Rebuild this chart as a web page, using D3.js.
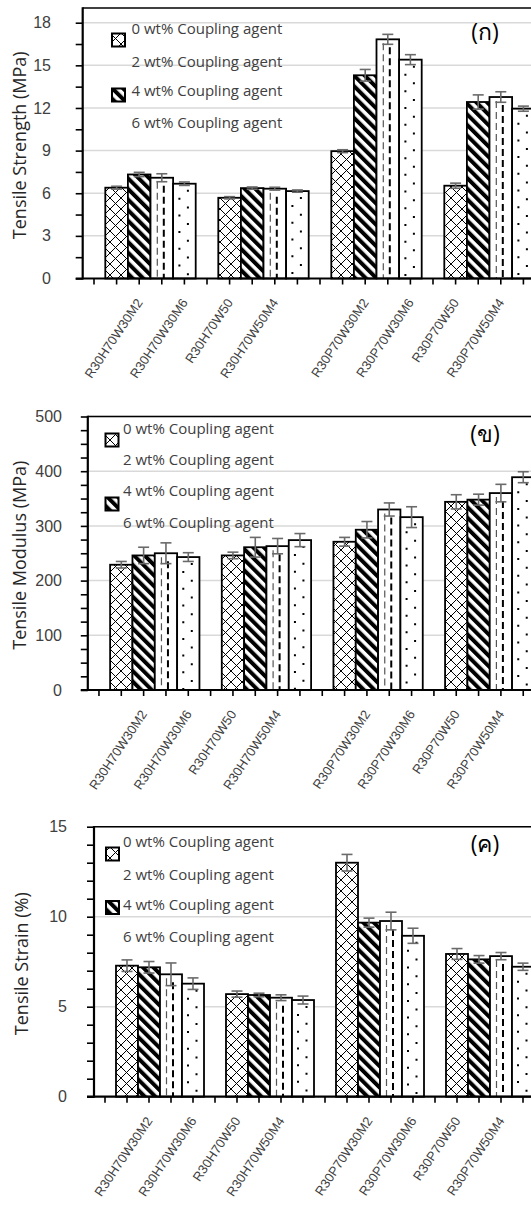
<!DOCTYPE html>
<html>
<head>
<meta charset="utf-8">
<script src="https://cdn.jsdelivr.net/npm/d3@7"></script>
<style>
  body { margin: 0; background: #fff; }
  svg { display: block; font-family: "Open Sans", "Noto Sans", sans-serif; }
</style>
</head>
<body>
<div class="chart"></div>
<script>
// slot labels of the category axis (20 slots, one label every other slot)
var slotLabels = ["", "", "R30H70W30M2", "", "R30H70W30M6", "", "R30H70W50", "", "R30H70W50M4", "",
                  "", "", "R30P70W30M2", "", "R30P70W30M6", "", "R30P70W50", "", "R30P70W50M4", ""];

var seriesNames = ["0 wt% Coupling agent", "2 wt% Coupling agent", "4 wt% Coupling agent", "6 wt% Coupling agent"];

// rows = bar groups, cols = series
var strengthMean = [[6.39, 7.32, 7.09, 6.67], [5.68, 6.36, 6.32, 6.15], [8.96, 14.3, 16.83, 15.4], [6.53, 12.42, 12.77, 11.95]];
var strengthErr  = [[0.10, 0.15, 0.28, 0.12], [0.08, 0.08, 0.10, 0.08], [0.10, 0.41, 0.35, 0.35], [0.18, 0.50, 0.37, 0.18]];
var modulusMean  = [[229, 246, 250, 243], [246, 261, 263, 274], [271, 293, 330, 316], [344, 348, 360, 389]];
var modulusErr   = [[6, 15, 19, 8], [6, 18, 14, 12], [8, 15, 12, 19], [13, 10, 16, 10]];
var strainMean   = [[7.28, 7.19, 6.80, 6.28], [5.70, 5.65, 5.50, 5.37], [13.0, 9.67, 9.76, 8.94], [7.93, 7.63, 7.81, 7.22]];
var strainErr    = [[0.32, 0.32, 0.63, 0.32], [0.17, 0.10, 0.16, 0.22], [0.46, 0.25, 0.49, 0.42], [0.30, 0.21, 0.20, 0.20]];

var strengthTicks = [0, 3, 6, 9, 12, 15, 18];
var modulusTicks = [0, 100, 200, 300, 400, 500];
var strainTicks = [0, 5, 10, 15];

var width = 531, height = 1206;

var panels = [
    { mean: strengthMean, err: strengthErr, ticks: strengthTicks, minor: 1.5, title: "Tensile Strength (MPa)", tag: "(ก)",
      left: 82.7, slot: 22.6, y0: 278.5, yMax: 22.7, top: 8, labelRight: 51, titleX: 20,
      boxX: 112, textX: 131.5, rows: [29, 61.5, 91, 122.5], boxes: [40, 95], tagY: 32 },
    { mean: modulusMean, err: modulusErr, ticks: modulusTicks, minor: 25, title: "Tensile Modulus (MPa)", tag: "(ข)",
      left: 87.8, slot: 22.33, y0: 690, yMax: 416.5, top: 416.5, labelRight: 62, titleX: 20,
      boxX: 105.5, textX: 123, rows: [428.5, 460, 491, 522.5], boxes: [440, 504], tagY: 434 },
    { mean: strainMean, err: strainErr, ticks: strainTicks, minor: 1, title: "Tensile Strain (%)", tag: "(ค)",
      left: 94, slot: 22, y0: 1096.7, yMax: 826.7, top: 826.7, labelRight: 67, titleX: 22,
      boxX: 106, textX: 123, rows: [842, 875, 905, 937], boxes: [854, 907.5], tagY: 844 }
];

var svg = d3.select(".chart").append("svg")
    .attr("width", width)
    .attr("height", height);

var defs = svg.append("defs");

var cross = defs.append("pattern")
    .attr("id", "cross")
    .attr("patternUnits", "userSpaceOnUse")
    .attr("width", 11).attr("height", 11);
cross.append("path")
    .attr("d", "M0,0L11,11M11,0L0,11")
    .attr("stroke", "#000").attr("stroke-width", 1).attr("fill", "none");

var stripe = defs.append("pattern")
    .attr("id", "stripe")
    .attr("patternUnits", "userSpaceOnUse")
    .attr("width", 7.5).attr("height", 10)
    .attr("patternTransform", "rotate(-45)");
stripe.append("rect")
    .attr("width", 4).attr("height", 10).attr("fill", "#000");

panels.forEach(function(p) {
    var x = d3.scaleBand()
        .domain(d3.range(slotLabels.length))
        .range([p.left, p.left + slotLabels.length * p.slot])
        .padding(0);

    var maxVal = p.ticks[p.ticks.length - 1];
    var y = d3.scaleLinear()
        .domain([0, maxVal])
        .range([p.y0, p.yMax]);

    var g = svg.append("g");

    // gridlines
    g.selectAll(".grid")
        .data(p.ticks.filter(function(d) { return d > 0; }))
        .enter().append("line")
        .attr("x1", p.left).attr("x2", width)
        .attr("y1", function(d) { return y(d); })
        .attr("y2", function(d) { return y(d); })
        .attr("stroke", "#d9d9d9")
        .attr("stroke-width", 1.5);

    // flatten bars
    var bars = [];
    p.mean.forEach(function(row, gi) {
        row.forEach(function(v, si) {
            bars.push({ slot: 1 + gi * 5 + si, s: si, v: v, e: p.err[gi][si] });
        });
    });

    var bw = x.bandwidth();

    var bar = g.selectAll(".bar")
        .data(bars)
        .enter().append("g");

    bar.append("rect")
        .attr("x", function(d) { return x(d.slot); })
        .attr("y", function(d) { return y(d.v); })
        .attr("width", bw)
        .attr("height", function(d) { return p.y0 - y(d.v); })
        .attr("fill", "#fff");

    bar.filter(function(d) { return d.s === 0 || d.s === 1; })
        .append("rect")
        .attr("x", function(d) { return x(d.slot); })
        .attr("y", function(d) { return y(d.v); })
        .attr("width", bw)
        .attr("height", function(d) { return p.y0 - y(d.v); })
        .attr("fill", function(d) { return d.s === 0 ? "url(#cross)" : "url(#stripe)"; });

    // dashed bars
    var dash = bar.filter(function(d) { return d.s === 2; });
    dash.append("line")
        .attr("x1", function(d) { return x(d.slot) + bw / 2 - 4.5; })
        .attr("x2", function(d) { return x(d.slot) + bw / 2 - 4.5; })
        .attr("y1", function(d) { return y(d.v) + 4; })
        .attr("y2", p.y0)
        .attr("stroke", "#555").attr("stroke-width", 1.2)
        .attr("stroke-dasharray", "7,4");
    dash.append("line")
        .attr("x1", function(d) { return x(d.slot) + bw / 2 + 2; })
        .attr("x2", function(d) { return x(d.slot) + bw / 2 + 2; })
        .attr("y1", function(d) { return y(d.v) + 8; })
        .attr("y2", p.y0)
        .attr("stroke", "#000").attr("stroke-width", 2)
        .attr("stroke-dasharray", "7,4");

    // dotted bars
    var dot = bar.filter(function(d) { return d.s === 3; });
    [[-5, 8], [3.5, 0]].forEach(function(o) {
        dot.append("line")
            .attr("x1", function(d) { return x(d.slot) + bw / 2 + o[0]; })
            .attr("x2", function(d) { return x(d.slot) + bw / 2 + o[0]; })
            .attr("y1", function(d) { return y(d.v) + 6 + o[1]; })
            .attr("y2", p.y0)
            .attr("stroke", "#000").attr("stroke-width", 2)
            .attr("stroke-dasharray", "2,14.7");
    });

    bar.append("rect")
        .attr("x", function(d) { return x(d.slot); })
        .attr("y", function(d) { return y(d.v); })
        .attr("width", bw)
        .attr("height", function(d) { return p.y0 - y(d.v); })
        .attr("fill", "none")
        .attr("stroke", "#000")
        .attr("stroke-width", 1.8);

    // error bars
    var eb = bar.append("g")
        .attr("stroke", "#6a6a6a")
        .attr("stroke-width", 1.6);
    eb.append("line")
        .attr("x1", function(d) { return x(d.slot) + bw / 2; })
        .attr("x2", function(d) { return x(d.slot) + bw / 2; })
        .attr("y1", function(d) { return y(d.v + d.e); })
        .attr("y2", function(d) { return y(d.v - d.e); });
    [1, -1].forEach(function(sign) {
        eb.append("line")
            .attr("x1", function(d) { return x(d.slot) + bw / 2 - 5.5; })
            .attr("x2", function(d) { return x(d.slot) + bw / 2 + 5.5; })
            .attr("y1", function(d) { return y(d.v + sign * d.e); })
            .attr("y2", function(d) { return y(d.v + sign * d.e); });
    });

    // frame
    g.append("line")
        .attr("x1", p.left).attr("x2", width)
        .attr("y1", p.top).attr("y2", p.top)
        .attr("stroke", "#000").attr("stroke-width", 1.5);

    // y axis with minor ticks
    var allTicks = d3.range(0, maxVal + p.minor / 2, p.minor);
    var yAxis = g.append("g")
        .attr("transform", "translate(" + p.left + ",0)")
        .call(d3.axisLeft(y)
            .tickValues(allTicks)
            .tickSize(7)
            .tickFormat(function(d) { return p.ticks.indexOf(d) >= 0 ? d : ""; }));
    yAxis.select(".domain").remove();
    yAxis.selectAll(".tick line").attr("stroke", "#000").attr("stroke-width", 1.6);
    yAxis.selectAll(".tick text")
        .attr("x", p.labelRight - p.left)
        .attr("fill", "#404040")
        .style("font-size", "16px");
    g.append("line")
        .attr("x1", p.left).attr("x2", p.left)
        .attr("y1", p.top - 0.75).attr("y2", p.y0 + 1)
        .attr("stroke", "#000").attr("stroke-width", 2.2);

    // x axis
    var xAxis = g.append("g")
        .attr("transform", "translate(0," + p.y0 + ")")
        .call(d3.axisBottom(x)
            .tickSize(6)
            .tickFormat(function(d) { return slotLabels[d]; }));
    xAxis.select(".domain").remove();
    xAxis.selectAll(".tick line").attr("stroke", "#000").attr("stroke-width", 1.6);
    xAxis.selectAll(".tick text")
        .attr("fill", "#404040")
        .style("font-size", "13px")
        .attr("text-anchor", "end")
        .attr("dy", null)
        .attr("y", 0)
        .attr("transform", "translate(4,24) rotate(-56)");
    g.append("line")
        .attr("x1", p.left - 7).attr("x2", width)
        .attr("y1", p.y0).attr("y2", p.y0)
        .attr("stroke", "#000").attr("stroke-width", 2.2);

    // y title
    g.append("text")
        .attr("transform", "translate(" + p.titleX + "," + ((p.top + p.y0) / 2 + 2) + ") rotate(-90)")
        .attr("text-anchor", "middle")
        .attr("dy", "0.35em")
        .attr("fill", "#262626")
        .style("font-size", "18px")
        .text(p.title);

    // legend
    g.selectAll(".leg")
        .data(seriesNames)
        .enter().append("text")
        .attr("x", p.textX)
        .attr("y", function(d, i) { return p.rows[i]; })
        .attr("dy", "0.35em")
        .attr("fill", "#404040")
        .style("font-size", "15px")
        .text(function(d) { return d; });

    g.selectAll(".legbox")
        .data(p.boxes)
        .enter().append("rect")
        .attr("x", p.boxX)
        .attr("y", function(d) { return d - 6.5; })
        .attr("width", 13).attr("height", 13)
        .attr("fill", function(d, i) { return i === 0 ? "url(#cross)" : "url(#stripe)"; })
        .attr("stroke", "#000")
        .attr("stroke-width", 2);

    g.append("text")
        .attr("x", 485)
        .attr("y", p.tagY)
        .attr("dy", "0.35em")
        .attr("text-anchor", "middle")
        .attr("fill", "#000")
        .style("font-size", "23px")
        .text(p.tag);
});
</script>
</body>
</html>
